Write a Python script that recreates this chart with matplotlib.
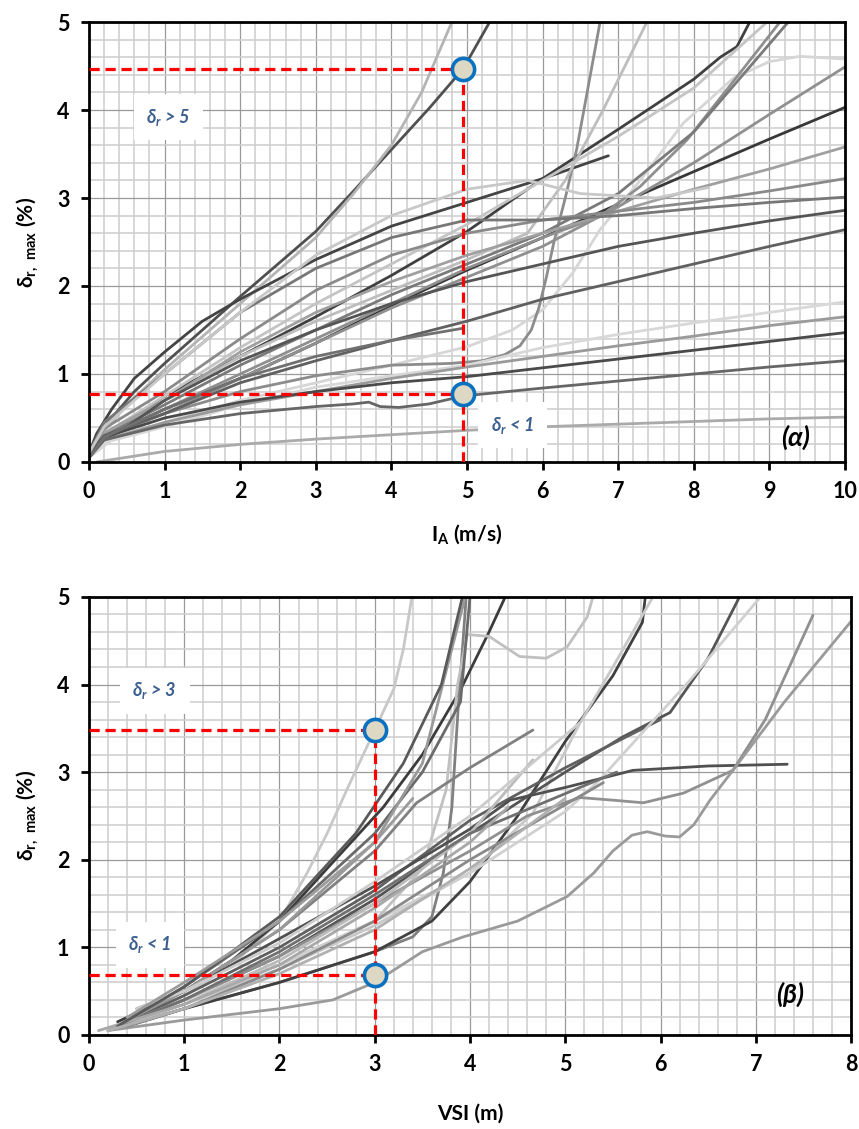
import matplotlib
matplotlib.use("Agg")
import matplotlib.pyplot as plt
from matplotlib.ticker import MultipleLocator

plt.rcParams['font.family'] = ['Lato', 'DejaVu Sans']
plt.rcParams['mathtext.default'] = 'regular'

# ---- panel (a): drift vs Arias intensity I_A ----
top_x = [
    [0, 0.1, 0.3, 0.6, 1, 1.5, 2, 2.5, 3, 3.5, 4, 4.5, 4.95, 5.3],
    [0, 0.1, 0.5, 1, 2, 3, 3.5, 4, 4.4, 4.8],
    [0, 0.2, 0.5, 1, 2, 3, 4, 5, 6, 7, 8, 8.35, 8.57, 8.74],
    [0, 0.1, 0.3, 0.6, 1, 1.5, 2, 3, 4, 5, 6, 6.87],
    [0, 0.2, 0.5, 1, 2, 3, 4, 5, 6, 7, 8, 9, 10],
    [0, 0.3, 1, 2, 3, 4, 5, 5.6, 6, 6.4, 6.76, 7.29, 7.86, 8.52, 9.0, 9.4, 10],
    [0, 0.2, 1, 2, 3, 4, 4.78, 5.2, 5.5, 5.7, 5.85, 5.95, 6.05, 6.15, 6.3, 6.45, 6.6, 6.76],
    [0, 0.2, 1, 2, 3, 4, 5, 5.8, 6.3, 6.8, 7.38],
    [0, 0.2, 1, 2, 3, 4, 5, 6, 6.76, 7.29, 7.91, 8.5, 9.14],
    [0, 0.2, 1, 2, 3, 4, 5, 6, 7, 8, 8.97],
    [0, 0.2, 1, 2, 3, 4, 5, 6, 7, 8, 8.6, 9.25],
    [0, 0.2, 1, 2, 3, 4, 5, 6, 7, 8, 9, 10],
    [0, 0.2, 1, 2, 3, 4, 5, 6, 7, 8, 9, 10],
    [0, 0.2, 1, 2, 3, 4, 5, 6, 7, 8, 9, 10],
    [0, 0.2, 1, 2, 3, 4, 5, 6, 7, 8, 9, 10],
    [0, 0.2, 0.5, 1, 2, 3, 4, 5, 6, 7, 8, 9, 10],
    [0, 0.2, 1, 2, 3, 4, 5, 6, 7, 8, 9, 10],
    [0, 0.2, 1, 2, 3, 4, 5, 6, 7, 8, 9, 10],
    [0, 0.2, 1, 2, 3, 4, 5, 6, 7, 8, 9, 10],
    [0, 0.2, 1, 2, 3, 4, 5, 6, 7, 8, 9, 10],
    [0, 0.2, 1, 2, 3, 3.5, 3.7, 3.85, 4.1, 4.5, 4.95, 6, 7, 8, 9, 10],
    [0.1, 1, 2, 3, 4, 5, 6, 7, 8, 9, 10],
    [0, 0.2, 1, 2, 3, 4, 5, 5.8, 6.5, 7.5, 8.2],
    [0, 0.2, 1, 2, 3, 4, 4.95],
]
top_y = [
    [0.1, 0.28, 0.5, 0.8, 1.12, 1.5, 1.88, 2.25, 2.62, 3.08, 3.55, 4.02, 4.47, 5.0],
    [0.1, 0.25, 0.65, 1.05, 1.8, 2.55, 3.05, 3.6, 4.2, 5.0],
    [0.1, 0.28, 0.45, 0.75, 1.2, 1.65, 2.12, 2.62, 3.22, 3.78, 4.35, 4.6, 4.72, 5.0],
    [0.1, 0.32, 0.6, 0.95, 1.25, 1.6, 1.85, 2.3, 2.68, 2.95, 3.22, 3.48],
    [0.1, 0.25, 0.4, 0.6, 0.95, 1.35, 1.78, 2.18, 2.55, 2.93, 3.3, 3.67, 4.03],
    [0.05, 0.25, 0.45, 0.7, 0.9, 1.1, 1.31, 1.5, 1.73, 2.15, 2.64, 3.2, 3.85, 4.36, 4.55, 4.61, 4.58],
    [0.1, 0.3, 0.55, 0.8, 0.98, 1.1, 1.12, 1.15, 1.22, 1.32, 1.5, 1.75, 2.1, 2.5, 3.0, 3.55, 4.25, 5.0],
    [0.1, 0.3, 0.7, 1.2, 1.6, 1.95, 2.3, 2.6, 3.2, 4.0, 5.0],
    [0.1, 0.28, 0.6, 1.0, 1.4, 1.8, 2.2, 2.55, 2.79, 3.13, 3.66, 4.3, 5.0],
    [0.1, 0.32, 0.75, 1.3, 1.8, 2.25, 2.7, 3.2, 3.7, 4.25, 5.0],
    [0.1, 0.3, 0.65, 1.1, 1.5, 1.9, 2.25, 2.6, 3.05, 3.75, 4.35, 5.0],
    [0.1, 0.28, 0.55, 0.95, 1.35, 1.75, 2.1, 2.45, 2.9, 3.4, 3.95, 4.49],
    [0.1, 0.33, 0.7, 1.25, 1.7, 2.05, 2.35, 2.6, 2.85, 3.1, 3.33, 3.58],
    [0.1, 0.38, 0.8, 1.4, 1.95, 2.35, 2.6, 2.75, 2.85, 2.95, 3.08, 3.22],
    [0.1, 0.45, 1.0, 1.7, 2.2, 2.55, 2.75, 2.75, 2.8, 2.88, 2.95, 3.01],
    [0.1, 0.25, 0.4, 0.7, 1.15, 1.5, 1.8, 2.05, 2.25, 2.45, 2.6, 2.74, 2.86],
    [0.1, 0.3, 0.55, 0.9, 1.15, 1.38, 1.6, 1.85, 2.05, 2.25, 2.45, 2.64],
    [0.05, 0.22, 0.4, 0.65, 0.85, 0.98, 1.1, 1.3, 1.45, 1.58, 1.7, 1.82],
    [0.05, 0.25, 0.45, 0.65, 0.8, 0.95, 1.08, 1.2, 1.32, 1.43, 1.55, 1.65],
    [0.05, 0.28, 0.5, 0.68, 0.8, 0.9, 0.97, 1.07, 1.17, 1.27, 1.37, 1.47],
    [0.05, 0.25, 0.42, 0.55, 0.63, 0.66, 0.68, 0.63, 0.62, 0.66, 0.75, 0.84, 0.92, 1.0, 1.08, 1.15],
    [0.0, 0.12, 0.2, 0.26, 0.31, 0.36, 0.4, 0.43, 0.46, 0.49, 0.51],
    [0.1, 0.4, 1.0, 1.7, 2.35, 2.8, 3.1, 3.2, 3.05, 3.0, 3.12],
    [0.05, 0.28, 0.6, 0.95, 1.2, 1.38, 1.52],
]
top_shades = ['#505050', '#b4b4b4', '#404040', '#444444', '#383838', '#d6d6d6',
              '#8c8c8c', '#bdbdbd', '#8f8f8f', '#c4c4c4', '#7a7a7a', '#909090',
              '#a0a0a0', '#8a8a8a', '#777777', '#555555', '#606060', '#d8d8d8',
              '#9a9a9a', '#4a4a4a', '#666666', '#aaaaaa', '#c8c8c8', '#707070']

# ---- panel (b): drift vs VSI ----
bot_x = [
    [0.3, 1, 1.5, 2, 2.29, 2.5, 2.72, 3.0, 3.2, 3.3, 3.39],
    [0.3, 1, 1.5, 2, 2.5, 3.09, 3.5, 3.9, 4.2, 4.37],
    [0.2, 1, 2, 3, 3.4, 3.6, 3.72, 3.81, 3.88, 3.96],
    [0.3, 1, 2, 3, 3.5, 3.75, 3.87, 3.97, 4.2, 4.52, 4.8, 5.02, 5.23, 5.29],
    [0.5, 1, 2, 3, 3.44, 4.0, 4.66],
    [0.4, 1, 2, 3, 3.6, 4, 4.5, 5.0, 5.5, 5.81, 5.84],
    [0.3, 1, 2, 3, 4, 4.66, 5.15, 5.5, 5.92],
    [0.3, 1, 2, 3, 4, 5, 5.6, 6.1, 6.5, 6.83],
    [0.5, 1, 2, 3, 4, 5, 6.0],
    [0.3, 1, 2, 3, 4, 5, 5.36, 6.31, 7.05],
    [0.3, 1, 2, 3, 4, 4.42, 5.02, 5.71, 6.5, 7.33],
    [0.3, 1, 2, 3, 4, 4.6, 5.15, 5.5, 5.82, 6.24, 6.76, 7.1, 7.6],
    [0.2, 1, 2, 2.56, 3, 3.5, 3.93, 4.5, 5.02, 5.3, 5.5, 5.7, 5.86, 6.05, 6.2, 6.35, 6.52, 6.76, 7.3, 8.0],
    [0.3, 1, 2, 3, 3.5, 3.9, 4.0],
    [0.2, 1, 2, 3, 3.5, 3.95],
    [0.4, 1, 2, 3, 4, 5.4],
    [0.2, 1, 2, 3, 4, 4.66],
    [0.3, 1, 2, 3, 4, 5.54],
    [0.5, 1, 2, 3, 4, 5.15],
    [0.1, 1, 2, 3, 4, 4.4],
    [0.3, 1, 2, 2.8, 3.3, 3.7, 3.92],
    [0.2, 1, 2, 3, 4, 5],
    [0.4, 1, 2, 3, 3.4],
]
bot_y = [
    [0.1, 0.45, 0.8, 1.3, 1.85, 2.3, 2.83, 3.48, 3.95, 4.4, 5.0],
    [0.15, 0.5, 0.85, 1.3, 1.9, 2.6, 3.2, 3.94, 4.6, 5.0],
    [0.05, 0.3, 0.6, 0.95, 1.12, 1.35, 1.85, 2.6, 3.8, 5.0],
    [0.1, 0.4, 0.8, 1.3, 1.9, 2.8, 4.0, 4.57, 4.55, 4.32, 4.3, 4.43, 4.77, 5.0],
    [0.3, 0.5, 1.2, 2.1, 2.65, 3.05, 3.48],
    [0.1, 0.3, 0.6, 0.95, 1.3, 1.75, 2.5, 3.35, 4.1, 4.71, 5.0],
    [0.1, 0.35, 0.75, 1.25, 1.85, 2.53, 3.55, 4.2, 5.0],
    [0.1, 0.4, 0.9, 1.55, 2.3, 3.0, 3.4, 3.68, 4.3, 5.0],
    [0.2, 0.45, 1.0, 1.65, 2.45, 3.05, 3.6],
    [0.1, 0.4, 0.8, 1.3, 1.85, 2.55, 2.91, 4.05, 5.0],
    [0.1, 0.5, 1.1, 1.7, 2.35, 2.68, 2.83, 3.02, 3.07, 3.09],
    [0.1, 0.4, 0.9, 1.5, 2.1, 2.5, 2.71, 2.68, 2.65, 2.76, 3.02, 3.6, 4.79],
    [0.05, 0.17, 0.3, 0.4, 0.6, 0.95, 1.12, 1.3, 1.58, 1.85, 2.1, 2.28, 2.32, 2.27, 2.26, 2.4, 2.68, 3.02, 3.8, 4.72],
    [0.1, 0.55, 1.3, 2.3, 3.0, 3.8, 5.0],
    [0.05, 0.5, 1.2, 2.2, 3.1, 5.0],
    [0.1, 0.3, 0.75, 1.3, 2.0, 2.88],
    [0.05, 0.35, 0.85, 1.5, 2.3, 3.14],
    [0.1, 0.4, 0.95, 1.6, 2.3, 3.0],
    [0.3, 0.5, 1.05, 1.75, 2.5, 3.56],
    [0.05, 0.35, 0.8, 1.45, 2.2, 2.6],
    [0.1, 0.55, 1.35, 2.3, 3.1, 4.0, 5.0],
    [0.05, 0.3, 0.7, 1.2, 1.9, 2.7],
    [0.2, 0.6, 1.3, 2.2, 2.7],
]
bot_shades = ['#c8c8c8', '#3c3c3c', '#808080', '#c0c0c0', '#808080', '#404040',
              '#c8c8c8', '#555555', '#606060', '#d0d0d0', '#505050', '#909090',
              '#9a9a9a', '#6a6a6a', '#999999', '#8a8a8a', '#bbbbbb', '#707070',
              '#cccccc', '#a8a8a8', '#5a5a5a', '#b0b0b0', '#9c9c9c']

top_points = [(4.95, 4.47), (4.95, 0.77)]
bot_points = [(3.0, 3.48), (3.0, 0.68)]

RED = '#ff0000'
BLUE_TXT = '#3b5f8f'


def style_axes(ax, xmax, xlabel, xlabel_pad):
    ax.set_xlim(0, xmax)
    ax.set_ylim(0, 5)
    ax.xaxis.set_major_locator(MultipleLocator(1))
    ax.yaxis.set_major_locator(MultipleLocator(1))
    ax.xaxis.set_minor_locator(MultipleLocator(0.2))
    ax.yaxis.set_minor_locator(MultipleLocator(0.2))
    ax.grid(which='minor', color='#cdcdcd', lw=1.1, zorder=0)
    ax.grid(which='major', color='#9a9a9a', lw=0.9, zorder=0)
    ax.set_axisbelow(True)
    for s in ax.spines.values():
        s.set_linewidth(2.0)
        s.set_color('black')
    ax.tick_params(which='major', direction='out', length=6, width=2,
                   labelsize=15.5, pad=8)
    ax.tick_params(which='minor', length=0)
    for lab in ax.get_xticklabels() + ax.get_yticklabels():
        lab.set_fontweight('bold')
    ax.set_xlabel(xlabel, fontsize=15, fontweight='bold', labelpad=xlabel_pad)
    ax.set_ylabel('δ$_{\\mathregular{r,\\ max}}$ (%)', fontsize=15,
                  fontweight='bold', labelpad=12)


def draw_curves(ax, xs, ys, shades):
    for x, y, c in zip(xs, ys, shades):
        ax.plot(x, y, color=c, lw=2.0, solid_capstyle='round',
                solid_joinstyle='round', zorder=2)


def draw_marks(ax, pts):
    top = max(p[1] for p in pts)
    xv = pts[0][0]
    ax.plot([xv, xv], [0, top], color=RED, lw=2.3, dashes=(3.2, 1.8), zorder=4)
    for x, y in pts:
        ax.plot([0, x], [y, y], color=RED, lw=2.3, dashes=(3.2, 1.8), zorder=4)
    for x, y in pts:
        ax.plot(x, y, 'o', ms=16, mfc='#ddd8c3', mec='#0a70c0', mew=2.6,
                zorder=5, clip_on=False)


def label(ax, x, y, s):
    ax.text(x, y, s, color=BLUE_TXT, fontsize=13, fontweight='bold',
            style='italic', ha='center', va='center', zorder=6,
            bbox=dict(boxstyle='square,pad=0.7', fc='white', ec='none'))


fig = plt.figure(figsize=(8.59, 11.29), dpi=100)
ax1 = fig.add_axes([0.1036, 0.5908, 0.8801, 0.3897])
ax2 = fig.add_axes([0.1036, 0.0833, 0.8871, 0.3880])

draw_curves(ax1, top_x, top_y, top_shades)
draw_marks(ax1, top_points)
style_axes(ax1, 10, 'I$_\\mathregular{A}$ (m/s)', 14)
label(ax1, 1.05, 3.92, 'δ$_\\mathregular{r}$ > 5')
label(ax1, 5.6, 0.42, 'δ$_\\mathregular{r}$ < 1')
ax1.text(9.35, 0.28, '(α)', fontsize=19, fontweight='bold', style='italic',
         ha='center', va='center', zorder=6)

draw_curves(ax2, bot_x, bot_y, bot_shades)
draw_marks(ax2, bot_points)
style_axes(ax2, 8, 'VSI (m)', 20)
label(ax2, 0.69, 3.93, 'δ$_\\mathregular{r}$ > 3')
label(ax2, 0.64, 1.03, 'δ$_\\mathregular{r}$ < 1')
ax2.text(7.36, 0.46, '(β)', fontsize=19, fontweight='bold', style='italic',
         ha='center', va='center', zorder=6)

fig.savefig('out.png', dpi=100)
